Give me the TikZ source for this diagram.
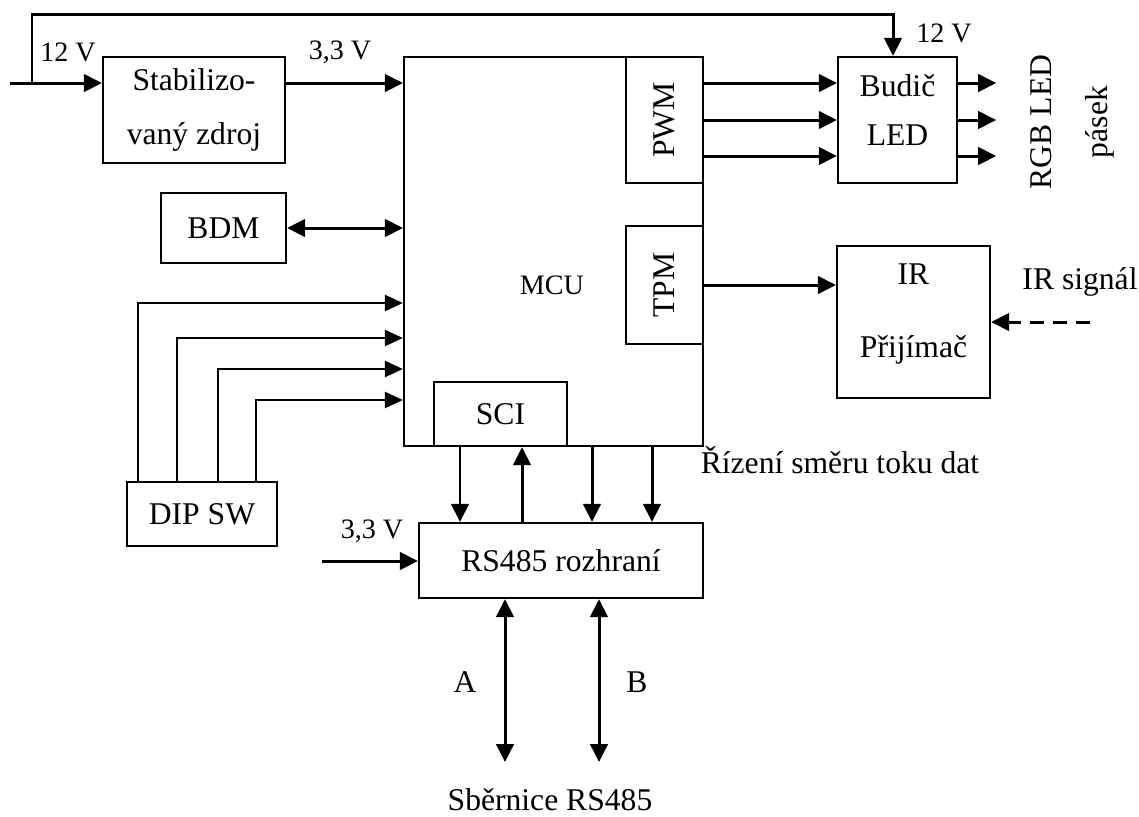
\documentclass[tikz,border=0pt]{standalone}
\usepackage{fontspec}
\setmainfont{Liberation Serif}
\usetikzlibrary{arrows.meta,positioning,calc}

\begin{document}
\begin{tikzpicture}[
    x=0.02cm, y=-0.02cm,
    every node/.style={font=\fontsize{18}{21}\selectfont, align=center, inner sep=0pt},
    blok/.style={rectangle, draw=black, line width=1.3pt, fill=white},
    popis/.style={font=\fontsize{16}{19}\selectfont},
    arr/.style={-{Triangle[length=3.6mm,width=3.5mm]}, line width=1.7pt},
    barr/.style={{Triangle[length=3.6mm,width=3.5mm]}-{Triangle[length=3.6mm,width=3.5mm]}, line width=1.7pt},
    vodic/.style={-{Triangle[length=3.6mm,width=3.2mm]}, line width=1.3pt}
]
\useasboundingbox (0,0) rectangle (1139,816);

% bloky
\node[blok, minimum width=3.64cm, minimum height=2.12cm, font=\fontsize{18}{31}\selectfont] (zdroj) at (194,110) {Stabilizo-\\vaný zdroj};
\node[blok, minimum width=5.98cm, minimum height=7.78cm] (mcu) at (553.5,251.5) {};
\node[popis] (mcutext) at (552,285) {MCU};
\node[blok, minimum width=1.54cm, minimum height=2.52cm] (pwm) at (664.5,120) {\rotatebox{90}{PWM}};
\node[blok, minimum width=1.54cm, minimum height=2.36cm] (tpm) at (664.5,285) {\rotatebox{90}{TPM}};
\node[blok, minimum width=2.66cm, minimum height=1.28cm] (sci) at (500.5,414) {SCI};
\node[blok, minimum width=2.5cm, minimum height=1.4cm] (bdm) at (223.5,228) {BDM};
\node[blok, minimum width=3.0cm, minimum height=1.28cm] (dip) at (202,514) {DIP SW};
\node[blok, minimum width=5.68cm, minimum height=1.5cm] (rs) at (561,560.5) {RS485 rozhraní};
\node[blok, minimum width=2.38cm, minimum height=2.52cm,
  label={[name=budictext, align=center, font=\fontsize{18}{28}\selectfont, yshift=0.2cm]center:{Budič\\LED}}] (budic) at (897.5,120) {};
\node[blok, minimum width=3.06cm, minimum height=3.04cm,
  label={[name=irtext, align=center, font=\fontsize{18}{41}\selectfont, yshift=0.16cm]center:{IR\\Přijímač}}] (ir) at (913.5,322) {};

% popisky
\node[popis] (u12a) at (68,52) {12 V};
\node[popis] (u33a) at (340,52) {3,3 V};
\node[popis] (u12b) at (944,33) {12 V};
\node[popis] (u33b) at (372,531) {3,3 V};
\node (rgb) at (1041,122) {\rotatebox{90}{RGB LED}};
\node (pasek) at (1100,122) {\rotatebox{90}{pásek}};
\node (irsigtext) at (1080,282) {IR signál};
\node (smer) at (840,460) {Řízení směru toku dat};
\node (lA) at (465,682) {A};
\node (lB) at (637,682) {B};
\node (sbernice) at (550,800) {Sběrnice RS485};

\coordinate (vstup) at (10,83);
\coordinate (odb) at (32,83);
\coordinate (hore) at (893,14);
\coordinate (irsig) at (1090,322);
\coordinate (napaj) at (322,561);
\coordinate (sbA) at (505,762);
\coordinate (sbB) at (599,762);

% napajeni
\draw[arr] (vstup) -- (vstup -| zdroj.west);
\draw[arr] (odb) |- (hore) -- (hore |- budic.north);
\draw[arr] (vstup -| zdroj.east) -- (vstup -| mcu.west);
\draw[arr] (napaj) -- (napaj -| rs.west);

\draw[barr] (bdm.east) -- (bdm.east -| mcu.west);
\foreach \dx/\yy in {12/303, 51/338, 92/369, 130/400}
  \draw[vodic] ($(dip.north west)+(\dx,0)$) |- (mcu.west |- 0,\yy);

\foreach \yy in {83,120,156} {
  \draw[arr] (pwm.east |- 0,\yy) -- (budic.west |- 0,\yy);
  \draw[arr] (budic.east |- 0,\yy) -- ++(38,0);
}
\draw[arr] (tpm.east) -- (tpm.east -| ir.west);
\draw[arr, dash pattern=on 8pt off 5pt] (irsig) -- (ir.east);

\foreach \xx in {460,592,652}
  \draw[arr] (mcu.south -| \xx,0) -- (rs.north -| \xx,0);
\draw[arr] (rs.north -| 522,0) -- (sci.south -| 522,0);

\draw[barr] (rs.south -| sbA) -- (sbA);
\draw[barr] (rs.south -| sbB) -- (sbB);

\end{tikzpicture}
\end{document}
